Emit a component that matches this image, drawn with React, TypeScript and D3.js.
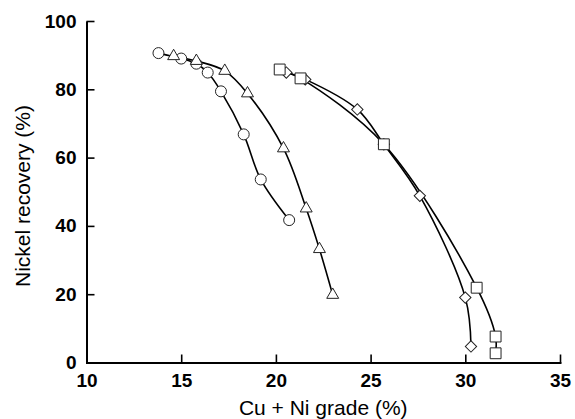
import React, { useEffect, useRef } from "react";
import * as d3 from "d3";

// values
const circleX = [13.8, 15.0, 15.8, 16.4, 17.1, 18.3, 19.2, 20.7];
const circleY = [90.6, 89.0, 87.5, 84.9, 79.4, 66.8, 53.6, 41.7];
const triangleX = [14.6, 15.8, 17.3, 18.5, 20.4, 21.6, 22.3, 23.0];
const triangleY = [89.7, 88.3, 85.4, 78.8, 62.7, 45.1, 33.2, 19.8];
const squareX = [20.2, 21.3, 25.7, 30.6, 31.6, 31.6];
const squareY = [85.8, 83.2, 63.9, 21.9, 7.6, 2.7];
const diamondX = [20.55, 21.55, 24.3, 25.7, 27.6, 30.0, 30.3];
const diamondY = [84.9, 82.9, 74.1, 63.9, 48.8, 19.0, 4.7];

const xTicks = [10, 15, 20, 25, 30, 35];
const yTicks = [0, 20, 40, 60, 80, 100];

const FONT = "'Liberation Sans', Arial, Helvetica, sans-serif";

export default function App() {
  const ref = useRef<SVGSVGElement>(null);

  useEffect(() => {
    const width = 575;
    const height = 419;
    const svg = d3.select(ref.current).attr("width", width).attr("height", height);
    svg.selectAll("*").remove();

    const x = d3.scaleLinear().domain([10, 35]).range([86.5, 560]);
    const y = d3.scaleLinear().domain([0, 100]).range([362.5, 21]);

    const series = [
      { xs: circleX, ys: circleY, symbol: d3.symbolCircle, size: 95 },
      { xs: triangleX, ys: triangleY, symbol: d3.symbolTriangle, size: 62 },
      { xs: diamondX, ys: diamondY, symbol: d3.symbolSquare, size: 64, rotate: 45 },
      { xs: squareX, ys: squareY, symbol: d3.symbolSquare, size: 118 },
    ];

    const line = d3
      .line<[number, number]>()
      .x((d) => x(d[0]))
      .y((d) => y(d[1]))
      .curve(d3.curveCatmullRom.alpha(0.5));

    // lines first
    series.forEach((s) => {
      const pts = s.xs.map((v, i) => [v, s.ys[i]] as [number, number]);
      svg
        .append("path")
        .attr("d", line(pts))
        .attr("fill", "none")
        .attr("stroke", "#000")
        .attr("stroke-width", 1.6);
    });

    // markers
    series.forEach((s) => {
      const sym = d3.symbol().type(s.symbol).size(s.size);
      svg
        .append("g")
        .selectAll("path")
        .data(s.xs.map((v, i) => [v, s.ys[i]]))
        .enter()
        .append("path")
        .attr("d", sym() as string)
        .attr(
          "transform",
          (d) => `translate(${x(d[0])},${y(d[1])})` + (s.rotate ? ` rotate(${s.rotate})` : "")
        )
        .attr("fill", "#fff")
        .attr("stroke", "#222")
        .attr("stroke-width", 1);
    });

    const xAxis = svg
      .append("g")
      .attr("transform", `translate(0,${y(0)})`)
      .call(d3.axisBottom(x).tickValues(xTicks).tickSizeInner(-8).tickSizeOuter(0).tickPadding(11));
    const yAxis = svg
      .append("g")
      .attr("transform", `translate(${x(10)},0)`)
      .call(d3.axisLeft(y).tickValues(yTicks).tickSizeInner(-8).tickSizeOuter(0).tickPadding(10));

    [xAxis, yAxis].forEach((a) => {
      a.select(".domain").attr("stroke", "#000").attr("stroke-width", 2);
      a.selectAll(".tick line").attr("stroke", "#000").attr("stroke-width", 1.6);
      a.selectAll(".tick text")
        .attr("fill", "#000")
        .style("font-family", FONT)
        .style("font-size", "19px")
        .style("font-weight", "bold");
    });
    a_fix();
    function a_fix() {
      // x-axis line runs from the y axis across
      xAxis.select(".domain").attr("stroke-linecap", "square");
    }

    svg
      .append("text")
      .attr("x", (x(10) + x(35)) / 2)
      .attr("y", 415)
      .attr("text-anchor", "middle")
      .style("font-family", FONT)
      .style("font-size", "21px")
      .text("Cu + Ni grade (%)");

    svg
      .append("text")
      .attr("transform", `translate(30,196) rotate(-90)`)
      .attr("text-anchor", "middle")
      .style("font-family", FONT)
      .style("font-size", "21px")
      .text("Nickel recovery (%)");
  }, []);

  return <svg ref={ref} style={{ position: "absolute", left: 0, top: 0, background: "#fff" }} />;
}
